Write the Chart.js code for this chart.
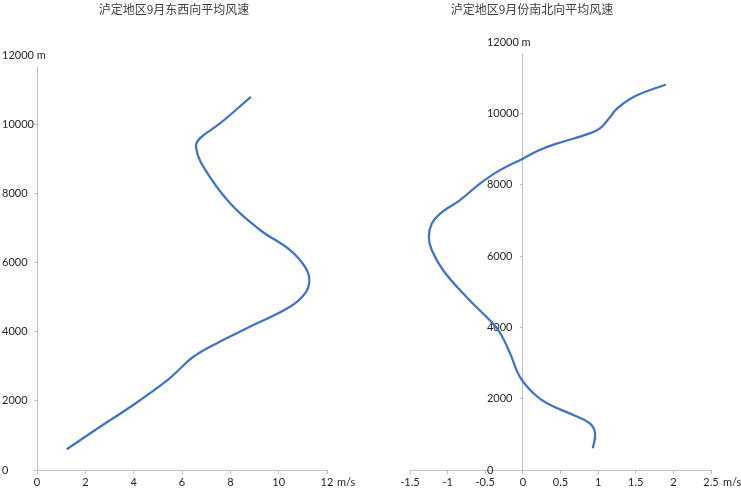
<!DOCTYPE html>
<html>
<head>
<meta charset="utf-8">
<script src="https://cdn.jsdelivr.net/npm/chart.js@4.4.1/dist/chart.umd.min.js"></script>
<style>
  html, body { margin: 0; padding: 0; background: #fff; }
  .box { position: absolute; top: 0; height: 500px; }
  #left-box { left: 0; width: 370px; }
  #right-box { left: 370px; width: 371px; }
</style>
</head>
<body>
<div class="box" id="left-box"><canvas id="ewChart"></canvas></div>
<div class="box" id="right-box"><canvas id="nsChart"></canvas></div>
<script>
  // ===== Data =====
  const ewTitle = '泸定地区9月东西向平均风速';
  const nsTitle = '泸定地区9月份南北向平均风速';

  // east-west component, bottom to top
  const ewHeights = [600, 1250, 1880, 2600, 2950, 3275, 3660, 4140, 4720, 5107, 5490, 5875, 6360, 6940, 7710, 8770, 9345, 9590, 10020, 10790];
  const ewSpeeds  = [1.23, 2.61, 3.98, 5.40, 5.95, 6.47, 7.43, 8.81, 10.47, 11.09, 11.27, 11.09, 10.47, 9.23, 7.99, 6.88, 6.58, 6.74, 7.57, 8.85];

  // north-south component, bottom to top
  const nsHeights = [610, 1030, 1310, 1540, 1870, 2150, 2610, 3270, 3870, 4200, 4850, 5600, 6160, 6535, 6910, 7190, 7560, 8030, 8400, 8730, 8980, 9150, 9410, 9570, 9900, 10130, 10460, 10810];
  const nsSpeeds  = [0.93, 0.96, 0.89, 0.67, 0.32, 0.14, -0.04, -0.17, -0.31, -0.44, -0.75, -1.06, -1.21, -1.25, -1.21, -1.10, -0.84, -0.57, -0.31, 0.0, 0.23, 0.45, 0.85, 1.02, 1.16, 1.25, 1.47, 1.90];

  const heightTicks = [0, 2000, 4000, 6000, 8000, 10000, 12000];
  const ewSpeedTicks = [0, 2, 4, 6, 8, 10, 12];
  const nsSpeedTicks = [-1.5, -1, -0.5, 0, 0.5, 1, 1.5, 2, 2.5];

  // ===== Styles =====
  const AXIS_GREY = '#bfbfbf';
  const LINE_BLUE = '#3f74bf';
  const TEXT_DARK = '#262626';
  const TICK_FONT = { family: 'Lato, "Liberation Sans", sans-serif', size: 11 };

  const toPoints = (xs, ys) => xs.map((x, i) => ({ x: x, y: ys[i] }));
  const fixedTicks = (values) => (scale) => { scale.ticks = values.map(v => ({ value: v })); };
  const isTopTick = (ctx) => ctx.index === heightTicks.length - 1;

  // title + "m/s" unit after the last x label
  const decorPlugin = {
    id: 'decor',
    afterDraw(chart, args, opts) {
      const ctx = chart.ctx;
      const xs = chart.scales.x;
      ctx.save();
      ctx.fillStyle = '#404040';
      ctx.font = '12px "Noto Sans CJK SC", sans-serif';
      ctx.textAlign = 'center';
      ctx.textBaseline = 'alphabetic';
      ctx.fillText(opts.title, opts.titleX, 14);

      ctx.fillStyle = TEXT_DARK;
      ctx.font = '11px Lato, "Liberation Sans", sans-serif';
      ctx.textAlign = 'left';
      ctx.textBaseline = 'middle';
      ctx.fillText('m/s', xs.getPixelForValue(xs.max) + opts.unitGap, xs.top + 12);
      ctx.restore();
    }
  };

  // lets "12000 m" run past the axis line; optionally moves the y axis onto x = 0
  const axisTweakPlugin = {
    id: 'axisTweak',
    afterLayout(chart, args, opts) {
      const y = chart.scales.y;
      y._computeLabelArea = () => undefined;
      if (!opts.cross) return;
      const zero = chart.scales.x.getPixelForValue(0);
      y.right = zero;
      y.left = zero - opts.labelWidth;
    }
  };

  function makeChart(canvas, cfg) {
    return new Chart(canvas, {
      type: 'scatter',
      data: {
        datasets: [{
          data: toPoints(cfg.speeds, cfg.heights),
          showLine: true,
          borderColor: LINE_BLUE,
          borderWidth: 2.25,
          tension: 0.4,
          pointRadius: 0,
          fill: false
        }]
      },
      options: {
        responsive: true,
        maintainAspectRatio: false,
        animation: false,
        layout: { padding: cfg.padding },
        plugins: {
          legend: { display: false },
          tooltip: { enabled: false },
          decor: { title: cfg.title, titleX: cfg.titleX, unitGap: cfg.unitGap },
          axisTweak: { cross: cfg.cross, labelWidth: 36 }
        },
        scales: {
          x: {
            type: 'linear',
            min: cfg.xTicks[0],
            max: cfg.xTicks[cfg.xTicks.length - 1],
            afterBuildTicks: fixedTicks(cfg.xTicks),
            afterFit: (s) => { s.height = 30; },
            border: { color: AXIS_GREY, width: 1 },
            grid: { drawOnChartArea: false, color: AXIS_GREY, tickLength: 4 },
            ticks: {
              font: TICK_FONT, color: TEXT_DARK, padding: 2,
              maxRotation: 0, autoSkip: false,
              callback: (v, i) => String(cfg.xTicks[i])
            }
          },
          y: {
            type: 'linear',
            min: 0,
            max: 12000,
            afterBuildTicks: fixedTicks(heightTicks),
            afterFit: (s) => { s.width = cfg.yWidth; },
            border: { color: AXIS_GREY, width: 1 },
            grid: { drawOnChartArea: false, color: AXIS_GREY, tickLength: 3 },
            ticks: {
              font: TICK_FONT, color: TEXT_DARK, crossAlign: 'far', autoSkip: false,
              showLabelBackdrop: isTopTick,
              backdropColor: '#ffffff',
              backdropPadding: { top: 1, bottom: 5, left: 0, right: 0 },
              callback: (v, i) => i === heightTicks.length - 1 ? heightTicks[i] + ' m' : String(heightTicks[i])
            }
          }
        }
      },
      plugins: [decorPlugin, axisTweakPlugin]
    });
  }

  makeChart(document.getElementById('ewChart'), {
    title: ewTitle, titleX: 174, unitGap: 10,
    speeds: ewSpeeds, heights: ewHeights, xTicks: ewSpeedTicks,
    padding: { left: 2, top: 55, right: 43, bottom: 0 },
    yWidth: 35, cross: false
  });

  makeChart(document.getElementById('nsChart'), {
    title: nsTitle, titleX: 162, unitGap: 12,
    speeds: nsSpeeds, heights: nsHeights, xTicks: nsSpeedTicks,
    padding: { left: 40, top: 42, right: 30, bottom: 0 },
    yWidth: 0, cross: true
  });
</script>
</body>
</html>
